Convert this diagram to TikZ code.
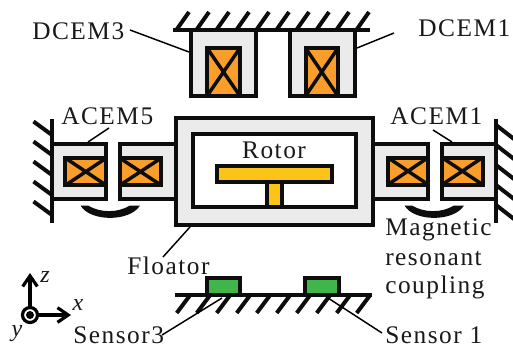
\documentclass[tikz,border=0pt]{standalone}
\usepackage{fontspec}
\setmainfont[LetterSpace=6]{Liberation Serif}
\usetikzlibrary{arrows.meta}
\definecolor{corecol}{HTML}{EBEBEB}
\definecolor{coilcol}{HTML}{F99D2B}
\definecolor{rotorcol}{HTML}{FCC419}
\definecolor{sensorcol}{HTML}{3FB54A}
\tikzset{
  px/.style={x=0.75pt,y=-0.75pt},
  thick line/.style={line width=3pt,black!95},
  core/.style={thick line,fill=corecol},
  coil/.style={thick line,fill=coilcol},
  xline/.style={line width=2.6pt,black!95},
  rotorpart/.style={thick line,fill=rotorcol},
  sensorpart/.style={thick line,fill=sensorcol},
  hatch/.style={line width=3pt,black!95},
  leader/.style={line width=1.1pt,black},
  crescent/.style={fill=black!95,draw=none},
  lbl/.style={font=\fontsize{19pt}{20pt}\selectfont,inner sep=0pt,text=black!90},
  axlbl/.style={font=\fontsize{18pt}{20pt}\selectfont\itshape,inner sep=0pt,text=black!90},
  axisarrow/.style={line width=2.4pt,-{Straight Barb[length=8pt,width=11pt,line width=2.4pt]}},
}
\begin{document}
\begin{tikzpicture}[px]
\useasboundingbox (0,0) rectangle (513,349);
% top ground
\draw[hatch] (173,30.5) -- (370,30.5);
\foreach \k in {0,...,9} \draw[hatch] ({176+20*\k},30.5) -- ({189+20*\k},12);
% DCEM
\draw[core] (191,30.5) rectangle (256,96);
\draw[coil] (207,48) rectangle (240,96);
\draw[xline] (207,48) -- (240,96) (240,48) -- (207,96);
\draw[core] (289.5,30.5) rectangle (355,96);
\draw[coil] (305.5,48) rectangle (338,96);
\draw[xline] (305.5,48) -- (338,96) (338,48) -- (305.5,96);
% left ground
\draw[hatch] (52,119) -- (52,223);
\foreach \k in {0,...,4} \draw[hatch] (33.5,{121.5+20*\k}) -- (52,{135+20*\k});
% ACEM left
\draw[core] (52,144) rectangle (106.3,198.7);
\draw[coil] (65.3,158) rectangle (106.3,185.3);
\draw[xline] (65.3,158) -- (106.3,185.3) (106.3,158) -- (65.3,185.3);
\draw[core] (119.7,144) rectangle (176,198.7);
\draw[coil] (119.7,158) rectangle (161.3,185.3);
\draw[xline] (119.7,158) -- (161.3,185.3) (161.3,158) -- (119.7,185.3);
\fill[crescent] (80.5,205.5) .. controls (90,222) and (130,222) .. (140,205.5) -- (130,205.5) .. controls (118,213) and (100,213) .. (88,205.5) -- cycle;
% right ground
\draw[hatch] (496,119) -- (496,223);
\foreach \k in {0,...,4} \draw[hatch] (496,{125+20*\k}) -- (514,{139+20*\k});
% ACEM right
\draw[core] (373,144) rectangle (428.3,198.7);
\draw[coil] (387.7,157.5) rectangle (428.3,184.7);
\draw[xline] (387.7,157.5) -- (428.3,184.7) (428.3,157.5) -- (387.7,184.7);
\draw[core] (442,144) rectangle (496,198.7);
\draw[coil] (442,157.5) rectangle (482.7,184.7);
\draw[xline] (442,157.5) -- (482.7,184.7) (482.7,157.5) -- (442,184.7);
\fill[crescent] (404.5,205.5) .. controls (414,222) and (454,222) .. (464,205.5) -- (454,205.5) .. controls (442,213) and (424,213) .. (412,205.5) -- cycle;
% floator
\draw[core] (176,117.7) rectangle (373.3,225);
\draw[thick line,fill=white] (192.7,134) rectangle (356.3,206.7);
\draw[rotorpart] (267,181.7) rectangle (282,206.7);
\draw[rotorpart] (217,166.3) rectangle (332,181.7);
% sensors
\draw[sensorpart] (207,278) rectangle (240.3,295);
\draw[sensorpart] (305.3,278) rectangle (338.7,295);
\draw[hatch] (175,295.3) -- (372,295.3);
\foreach \k in {0,...,9} \draw[hatch] ({190+20*\k},295.3) -- ({176.7+20*\k},313);
% labels
\node[lbl,anchor=base west] (dcemc) at (32,40) {DCEM3};
\node[lbl,anchor=base west] (dcema) at (418,37) {DCEM1};
\node[lbl,anchor=base west] (acemf) at (61,125) {ACEM5};
\node[lbl,anchor=base west] (acema) at (390,125) {ACEM1};
\node[lbl,anchor=base] (rotor) at (274,158) {Rotor};
\node[lbl,anchor=base west] (floator) at (127,274) {Floator};
\node[lbl,anchor=base west] (magn) at (385,235) {Magnetic};
\node[lbl,anchor=base west] (reso) at (385,265) {resonant};
\node[lbl,anchor=base west] (coup) at (385,293) {coupling};
\node[lbl,anchor=base west] (sensc) at (73,343) {Sensor3};
\node[lbl,anchor=base west] (sensa) at (385,343) {Sensor 1};
% leaders
\coordinate (l1a) at (130,30); \coordinate (l1b) at (189,52);
\coordinate (l2a) at (394,33); \coordinate (l2b) at (357,48);
\coordinate (l3a) at (109,128); \coordinate (l3b) at (88,142);
\coordinate (l4a) at (433,130); \coordinate (l4b) at (452,142);
\coordinate (l5a) at (163,257); \coordinate (l5b) at (190,227);
\coordinate (l6a) at (162,335); \coordinate (l6b) at (222,298);
\coordinate (l7a) at (382,333); \coordinate (l7b) at (328,298);
\foreach \n in {1,...,7} \draw[leader] (l\n a) -- (l\n b);
% axes
\coordinate (orig) at (30,315);
\coordinate (zend) at (30,273);
\coordinate (xend) at (71,315);
\draw[axisarrow] (orig) -- (zend);
\draw[axisarrow] (orig) -- (xend);
\draw[line width=2.4pt,fill=white] (orig) circle[radius=7.5];
\fill (orig) circle[radius=4];
\node[axlbl] (zlab) at (45,277) {z};
\node[axlbl] (xlab) at (78,305) {x};
\node[axlbl] (ylab) at (17,334) {y};
\end{tikzpicture}
\end{document}
